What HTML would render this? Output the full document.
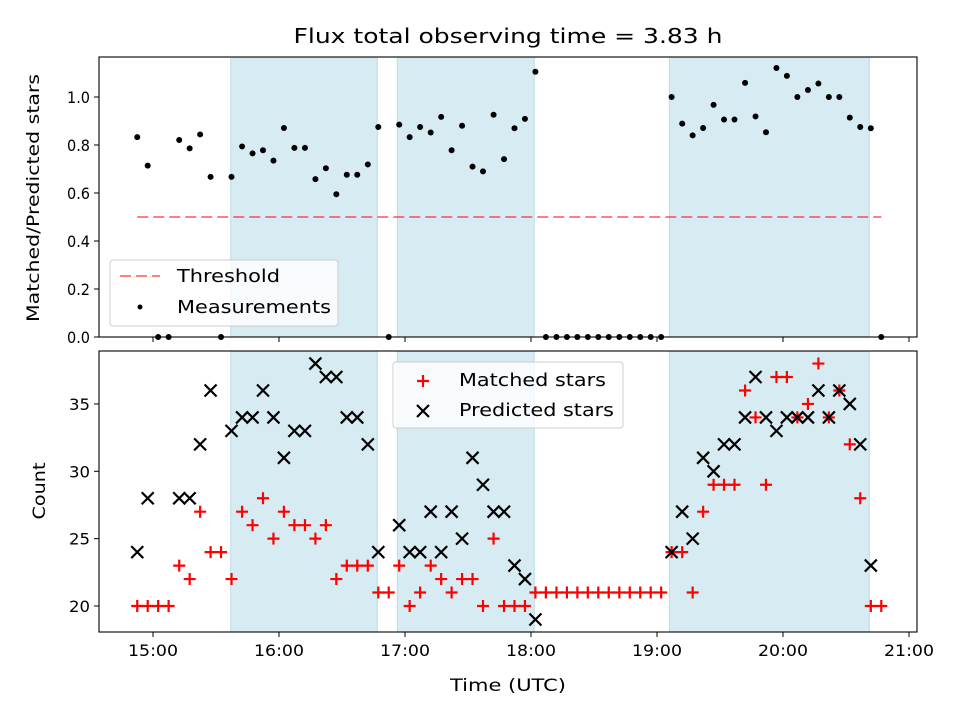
<!DOCTYPE html>
<html><head><meta charset="utf-8"><style>
body{margin:0;background:#fff}
svg{display:block;font-family:"DejaVu Sans","Liberation Sans",sans-serif}
</style></head><body>
<svg id="chart" width="960" height="720" viewBox="0 0 960 720" xmlns="http://www.w3.org/2000/svg"></svg>
<script>
// ---- data ----
const times = [14.875,14.958,15.041,15.124,15.208,15.291,15.374,15.457,15.540,15.623,15.707,15.790,15.873,15.956,16.039,16.122,16.206,16.289,16.372,16.455,16.538,16.621,16.705,16.788,16.871,16.954,17.037,17.120,17.204,17.287,17.370,17.453,17.536,17.619,17.703,17.786,17.869,17.952,18.035,18.118,18.202,18.285,18.368,18.451,18.534,18.617,18.701,18.784,18.867,18.950,19.033,19.116,19.200,19.283,19.366,19.449,19.532,19.615,19.699,19.782,19.865,19.948,20.031,20.114,20.198,20.281,20.364,20.447,20.530,20.613,20.697,20.780];
const ratio = [0.833,0.714,0,0,0.821,0.786,0.844,0.667,0,0.667,0.794,0.765,0.778,0.735,0.871,0.788,0.788,0.658,0.703,0.595,0.676,0.676,0.719,0.875,0,0.885,0.833,0.875,0.852,0.917,0.778,0.88,0.71,0.69,0.926,0.741,0.87,0.909,1.105,0,0,0,0,0,0,0,0,0,0,0,0,1.0,0.889,0.84,0.871,0.967,0.906,0.906,1.059,0.919,0.853,1.121,1.088,1.0,1.029,1.056,1.0,1.0,0.914,0.875,0.87,0];
const matched = [20,20,20,20,23,22,27,24,24,22,27,26,28,25,27,26,26,25,26,22,23,23,23,21,21,23,20,21,23,22,21,22,22,20,25,20,20,20,21,21,21,21,21,21,21,21,21,21,21,21,21,24,24,21,27,29,29,29,36,34,29,37,37,34,35,38,34,36,32,28,20,20];
const predicted = [24,28,null,null,28,28,32,36,null,33,34,34,36,34,31,33,33,38,37,37,34,34,32,24,null,26,24,24,27,24,27,25,31,29,27,27,23,22,19,null,null,null,null,null,null,null,null,null,null,null,null,24,27,25,31,30,32,32,34,37,34,33,34,34,34,36,34,36,35,32,23,null];
const spanStarts = [15.617,16.939,19.098];
const spanEnds = [16.780,18.026,20.685];
const xTickVals = [15,16,17,18,19,20,21];
const xTickLabels = ["15:00","16:00","17:00","18:00","19:00","20:00","21:00"];
const topTicks = [0,0.2,0.4,0.6,0.8,1.0];
const topTickLabels = ["0.0","0.2","0.4","0.6","0.8","1.0"];
const botTicks = [20,25,30,35];
const botTickLabels = ["20","25","30","35"];
const threshold = 0.5;

// ---- layout ----
const L=99,R=917, T1=57,B1=337, T2=351,B2=632;
const xs = t => 153 + (t-15)*126;
const y1 = v => 337 - v*240;
const y2 = v => 606 - (v-20)*13.47;
const svg = document.getElementById('chart');
const NS='http://www.w3.org/2000/svg';
function mk(tag, attrs, parent){const e=document.createElementNS(NS,tag);for(const k in attrs)e.setAttribute(k,attrs[k]);(parent||svg).appendChild(e);return e;}

function panel(top,bot,name){
  const g=mk('g',{});
  
  
  for(let i=0;i<spanStarts.length;i++){
    const r=mk('rect',{x:xs(spanStarts[i]),y:top,width:xs(spanEnds[i])-xs(spanStarts[i]),height:bot-top,fill:'#add8e6','fill-opacity':0.5,stroke:'#add8e6','stroke-opacity':0.8},g);
    
    
  }
  return g;
}
function frame(top,bot,name){
  const f=mk('rect',{x:L,y:top,width:R-L,height:bot-top,fill:'none',stroke:'#000','stroke-width':1.1});
  
  
}
function xticks(bot,labels){
  xTickVals.forEach((t,i)=>{
    mk('line',{x1:xs(t),x2:xs(t),y1:bot,y2:bot+5,stroke:'#000','stroke-width':1});
    if(labels){const tx=mk('text',{x:xs(t),y:bot+24,'text-anchor':'middle','font-size':16,fill:'#000',textLength:50,lengthAdjust:'spacingAndGlyphs'});tx.textContent=xTickLabels[i];
      
      }
  });
}
function yticks(vals,labs,fy,w){
  vals.forEach((v,i)=>{
    mk('line',{x1:L-5,x2:L,y1:fy(v),y2:fy(v),stroke:'#000','stroke-width':1});
    const tx=mk('text',{x:L-9,y:fy(v)+6,'text-anchor':'end','font-size':16,fill:'#000',textLength:w,lengthAdjust:'spacingAndGlyphs'});tx.textContent=labs[i];
    
    
  });
}

// top panel
panel(T1,B1,'ratio-panel');
const th=mk('line',{x1:xs(times[0]),x2:xs(times[times.length-1]),y1:y1(threshold),y2:y1(threshold),stroke:'#ff0000','stroke-opacity':0.5,'stroke-width':2,'stroke-dasharray':'11 5'});


const ptsG=mk('g',{});
times.forEach((t,i)=>{
  const c=mk('circle',{cx:xs(t),cy:y1(ratio[i]),r:3,fill:'#000'},ptsG);
  
  
});
frame(T1,B1,'ratio-axes');
xticks(B1,false);
yticks(topTicks,topTickLabels,y1,23);

// bottom panel
panel(T2,B2,'count-panel');
times.forEach((t,i)=>{
  const x=xs(t), y=y2(matched[i]);
  const p=mk('path',{d:`M${x-6},${y}H${x+6}M${x},${y-6}V${y+6}`,stroke:'#ff0000','stroke-width':2.2,fill:'none'});
  
  
});
times.forEach((t,i)=>{
  if(predicted[i]===null) return;
  const x=xs(t), y=y2(predicted[i]);
  const p=mk('path',{d:`M${x-6},${y-6}L${x+6},${y+6}M${x-6},${y+6}L${x+6},${y-6}`,stroke:'#000','stroke-width':2.2,fill:'none'});
  
  
});
frame(T2,B2,'count-axes');
xticks(B2,true);
yticks(botTicks,botTickLabels,y2,21);
</script>
<svg width="960" height="720" style="position:absolute;left:0;top:0" xmlns="http://www.w3.org/2000/svg">
  <text x="508" y="43" text-anchor="middle" font-size="20" textLength="429" lengthAdjust="spacingAndGlyphs" font-family="DejaVu Sans, Liberation Sans, sans-serif">Flux total observing time = 3.83 h</text>
  <text x="508" y="691" text-anchor="middle" font-size="17" textLength="116" lengthAdjust="spacingAndGlyphs" font-family="DejaVu Sans, Liberation Sans, sans-serif">Time (UTC)</text>
  <text transform="translate(39,198) rotate(-90)" text-anchor="middle" font-size="17" textLength="248" lengthAdjust="spacingAndGlyphs" font-family="DejaVu Sans, Liberation Sans, sans-serif">Matched/Predicted stars</text>
  <text transform="translate(45,491) rotate(-90)" text-anchor="middle" font-size="17" textLength="57" lengthAdjust="spacingAndGlyphs" font-family="DejaVu Sans, Liberation Sans, sans-serif">Count</text>
  <g>
    <rect x="110" y="260" width="228" height="66" rx="3" fill="#fff" fill-opacity="0.8" stroke="#ccc"/>
    <line x1="120" x2="160" y1="276" y2="276" stroke="#ff0000" stroke-opacity="0.5" stroke-width="2" stroke-dasharray="11 5"/>
    <text x="177" y="282" font-size="18" textLength="103" lengthAdjust="spacingAndGlyphs" font-family="DejaVu Sans, Liberation Sans, sans-serif">Threshold</text>
    <circle cx="140" cy="307" r="2.5" fill="#000"/>
    <text x="177" y="313" font-size="18" textLength="154" lengthAdjust="spacingAndGlyphs" font-family="DejaVu Sans, Liberation Sans, sans-serif">Measurements</text>
  </g>
  <g>
    <rect x="393" y="362" width="230" height="66" rx="3" fill="#fff" fill-opacity="0.8" stroke="#ccc"/>
    <path d="M417,381H429M423,375V387" stroke="#ff0000" stroke-width="2.2"/>
    <text x="459" y="386" font-size="18" textLength="147" lengthAdjust="spacingAndGlyphs" font-family="DejaVu Sans, Liberation Sans, sans-serif">Matched stars</text>
    <path d="M417,405L429,417M417,417L429,405" stroke="#000" stroke-width="2.2"/>
    <text x="459" y="416" font-size="18" textLength="155" lengthAdjust="spacingAndGlyphs" font-family="DejaVu Sans, Liberation Sans, sans-serif">Predicted stars</text>
  </g>
</svg>
</body></html>
